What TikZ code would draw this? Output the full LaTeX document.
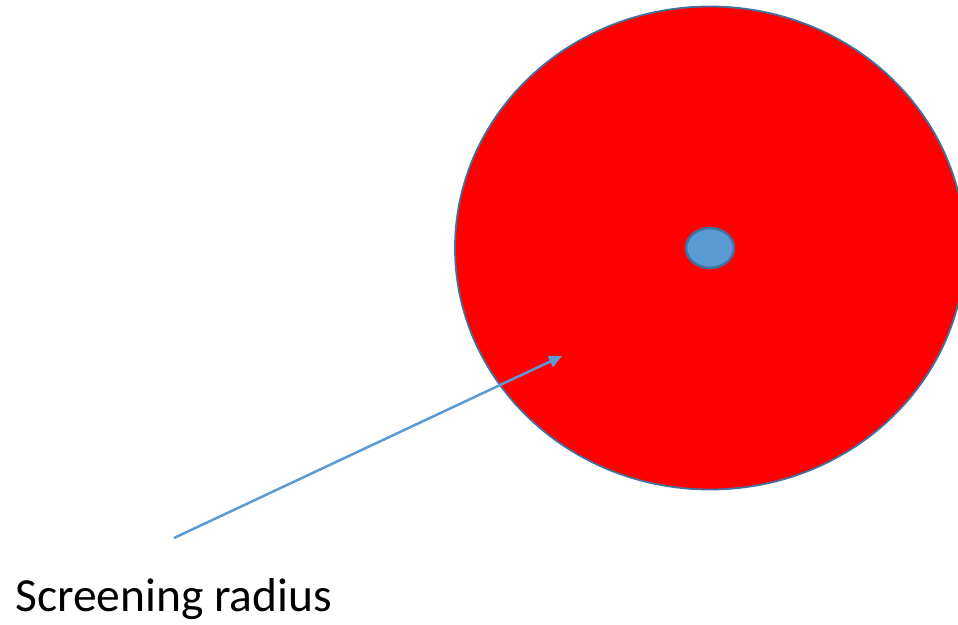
\documentclass[tikz,border=0pt]{standalone}
\usepackage{fontspec}
\setmainfont{Carlito}
\usetikzlibrary{shapes.geometric,arrows.meta}
\definecolor{outl}{HTML}{41719C}
\definecolor{accent}{HTML}{5B9BD5}
\tikzset{
  bigdisc/.style={ellipse, draw=outl, fill=red, line width=1.8pt, minimum width=510pt, minimum height=483pt, inner sep=0pt},
  core/.style={ellipse, draw=outl, fill=accent, line width=2.5pt, minimum width=48pt, minimum height=40pt, inner sep=0pt},
  pointer/.style={draw=accent, line width=2.5pt, -{Triangle[length=13pt,width=12pt]}},
  captiontext/.style={font=\fontsize{47.5}{56}\selectfont, inner sep=0pt, anchor=base west}
}
\begin{document}
\begin{tikzpicture}[x=1pt,y=1pt]
\useasboundingbox (0,0) rectangle (958,624);
\node[bigdisc] (disc) at (710,376) {};
\node[core] (center) at (710,376) {};
\coordinate (tail) at (174,86);
\coordinate (tip) at (562,268);
\draw[pointer] (tail) -- (tip);
\node[captiontext] (lab) at (15,13) {Screening radius};
\end{tikzpicture}
\end{document}
